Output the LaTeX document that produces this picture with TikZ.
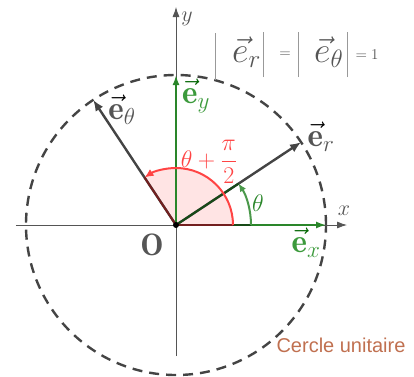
\documentclass[tikz,border=0pt]{standalone}
\usepackage{fix-cm}
\usepackage{amsmath}
\usepackage{fontspec}
\newfontfamily\arialfont{Liberation Sans}
\usetikzlibrary{arrows.meta}
\definecolor{axisgray}{HTML}{555555}
\definecolor{vecgray}{HTML}{444444}
\definecolor{labgray}{HTML}{555555}
\definecolor{bargray}{HTML}{999999}
\definecolor{gline}{HTML}{2A862A}
\definecolor{glab}{HTML}{3C9A3C}
\definecolor{gdark}{HTML}{006400}
\definecolor{rline}{HTML}{FF4444}
\definecolor{pinkfill}{HTML}{FFE4E4}
\definecolor{cercle}{RGB}{192,112,80}
\newcommand{\evec}[2]{{\color{#2}\vec{\color{#1}\mathbf{e}}}}
\tikzset{
  axisline/.style={draw=axisgray, line width=0.8pt, -{Latex[length=10pt,width=7pt]}},
  vecline/.style={draw=vecgray, line width=2.4pt, -{Latex[length=11pt,width=9pt]}},
  gvec/.style={draw=gline, line width=1.6pt, -{Latex[length=10pt,width=7pt]}},
  unitcircle/.style={draw=vecgray, line width=2.4pt, dash pattern=on 10pt off 7pt},
  gside/.style={draw=gline!55!black, line width=2pt},
  rside/.style={draw=rline!45!black, line width=2pt},
  garc/.style={draw=gline!85!white, line width=2pt, -{Latex[length=8pt,width=7pt]}},
  rarc/.style={draw=rline, line width=2pt, -{Latex[length=9pt,width=8pt]}},
  lab/.style={inner sep=0pt},
  bar/.style={draw=bargray, line width=0.7pt}
}
\begin{document}
\begin{tikzpicture}[x=1pt,y=1pt]
\useasboundingbox (-176,-151) rectangle (238,225);
\coordinate (O) at (0,0);
\coordinate (xs) at (-160,0);
\coordinate (xe) at (171,0);
\coordinate (ys) at (0,-131);
\coordinate (ye) at (0,218);
\coordinate (ex) at (150,0);
\coordinate (ey) at (0,150);
\coordinate (er) at (33.5:150);
\coordinate (eth) at (123.5:150);
\coordinate (gx) at (75,0);
\coordinate (gr) at (33.5:75);
\coordinate (rx) at (57,0);
\coordinate (rt) at (123.5:57);
% pink sector
\fill[pinkfill] (O) -- (rx) arc[start angle=0,end angle=123.5,radius=57] -- cycle;
% unit circle
\draw[unitcircle] (O) circle[radius=150];
% axes
\draw[axisline] (xs) -- (xe);
\draw[axisline] (ys) -- (ye);
\node[lab, text=labgray, font=\fontsize{22}{24}\selectfont] (xl) at (168,14) {$x$};
\node[lab, text=labgray, font=\fontsize{22}{24}\selectfont] (yl) at (11,206) {$y$};
% green basis vectors
\draw[gvec] (O) -- (ex);
\draw[gvec, line width=2pt] (O) -- (ey);
% polar vectors
\draw[vecline] (O) -- (er);
\draw[vecline] (O) -- (eth);
% angle sides
\draw[gside] (O) -- (gx);
\draw[gside] (O) -- (gr);
\draw[rside] (O) -- (rx);
\draw[rside] (O) -- (rt);
% arcs
\draw[garc] (gx) arc[start angle=0,end angle=33.5,radius=75];
\draw[rarc] (rx) arc[start angle=0,end angle=123.5,radius=57];
\fill[black] (O) circle[radius=3];
% labels
\node[lab, font=\fontsize{31}{33}\selectfont] (Ol) at (-24,-20) {\color{labgray}$\mathbf{O}$};
\node[lab, font=\fontsize{33}{35}\selectfont] (erl) at (145,88) {$\evec{labgray}{black}_{\color{labgray}r}$};
\node[lab, font=\fontsize{33}{35}\selectfont] (etl) at (-54,115) {$\evec{labgray}{black}_{\color{labgray}\theta}$};
\node[lab, font=\fontsize{33}{35}\selectfont] (exl) at (130,-18) {$\evec{glab}{gdark}_{\color{glab}x}$};
\node[lab, font=\fontsize{33}{35}\selectfont] (eyl) at (20,129) {$\evec{glab}{gdark}_{\color{glab}y}$};
\node[lab, text=gline, font=\fontsize{24}{26}\selectfont] (thl) at (82,22) {$\theta$};
\node[lab, text=rline, font=\fontsize{24}{26}\selectfont] (tpl) at (33,63) {$\theta+\dfrac{\pi}{2}$};
\node[lab, text=cercle, font=\arialfont\fontsize{20}{22}\selectfont] (cu) at (165,-120) {Cercle unitaire};
% top formula
\draw[bar] (39,145) -- (39,192);
\draw[bar] (87,148) -- (87,193);
\draw[bar] (122,148) -- (122,193);
\draw[bar] (171,148) -- (171,193);
\node[lab, anchor=base west, text=labgray, font=\fontsize{36}{38}\selectfont] (ter) at (56,163) {$\vec{e}_r$};
\node[lab, text=labgray, font=\fontsize{15}{16}\selectfont] (eq1) at (109,170) {$=$};
\node[lab, anchor=base west, text=labgray, font=\fontsize{36}{38}\selectfont] (tet) at (138,163) {$\vec{e}_\theta$};
\node[lab, text=labgray, font=\fontsize{15}{16}\selectfont] (eq2) at (191,170) {$=1$};
\end{tikzpicture}
\end{document}
